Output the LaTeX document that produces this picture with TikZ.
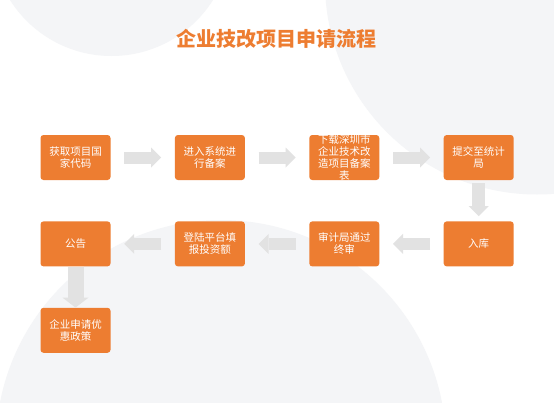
\documentclass[tikz,border=0pt]{standalone}
\usepackage{fontspec}
\newfontfamily\cjk{Noto Sans CJK SC}
\usetikzlibrary{arrows.meta, positioning}
\definecolor{steporange}{RGB}{237,125,49}
\definecolor{arrowgray}{RGB}{226,226,226}
\definecolor{bggray}{RGB}{244,245,247}

\begin{document}
\begin{tikzpicture}[
    x=1pt, y=-1pt,
    node distance=41pt and 64pt,
    every node/.style={font=\cjk\fontsize{10.5}{12}\selectfont},
    box/.style={
      rectangle, rounded corners=3pt, fill=steporange, text=white,
      minimum width=70pt, minimum height=45pt,
      align=center, inner sep=2pt
    },
    boxtext/.style={text=white, align=center, inner sep=0pt},
    flow/.style={draw=arrowgray, line width=12pt,
      -{Triangle[length=10pt, width=20pt, line width=0pt]},
      shorten <=13.5pt, shorten >=13.5pt},
    flowdown/.style={flow, line width=13pt,
      shorten <=3pt, shorten >=5pt},
    bigdown/.style={draw=arrowgray, line width=16pt,
      -{Triangle[length=10pt, width=26pt, line width=0pt]}}
  ]
    \useasboundingbox (0,0) rectangle (554,402);
    % background
    \fill[white] (0,0) rectangle (554,402);
    \begin{scope}
      \clip (0,0) rectangle (554,402);
      \fill[bggray] (111.5,-64) circle[radius=120pt];
      \fill[bggray] (537,-17.5) circle[radius=212pt];
      \fill[bggray] (221,445) circle[radius=225pt];
    \end{scope}

    \node[font=\cjk\bfseries\fontsize{20}{24}\selectfont, text=steporange]
      (title) at (276,39) {企业技改项目申请流程};

    % first row
    \node[box] (hq) at (75.5,157.5) {获取项目国\\家代码};
    \node[box, right=of hq] (jr) {进入系统进\\行备案};
    \node[box, right=of jr] (xz) {};
    \node[boxtext] (xzt) at (xz) {下载深圳市\\企业技术改\\造项目备案\\表};
    \node[box, right=of xz] (tj) {提交至统计\\局};
    % second row
    \node[box, below=of tj] (rk) {入库};
    \node[box, left=of rk] (sj) {审计局通过\\终审};
    \node[box, left=of sj] (dl) {登陆平台填\\报投资额};
    \node[box, left=of dl] (gg) {公告};
    \node[box, below=of gg] (yh) {企业申请优\\惠政策};

    \draw[flow] (hq) -- (jr);
    \draw[flow] (jr) -- (xz);
    \draw[flow] (xz) -- (tj);
    \draw[flowdown] (tj) -- (rk);
    \draw[flow] (rk) -- (sj);
    \draw[flow] (sj) -- (dl);
    \draw[flow] (dl) -- (gg);
    \draw[bigdown] (gg) -- (yh);
  \end{tikzpicture}
\end{document}
